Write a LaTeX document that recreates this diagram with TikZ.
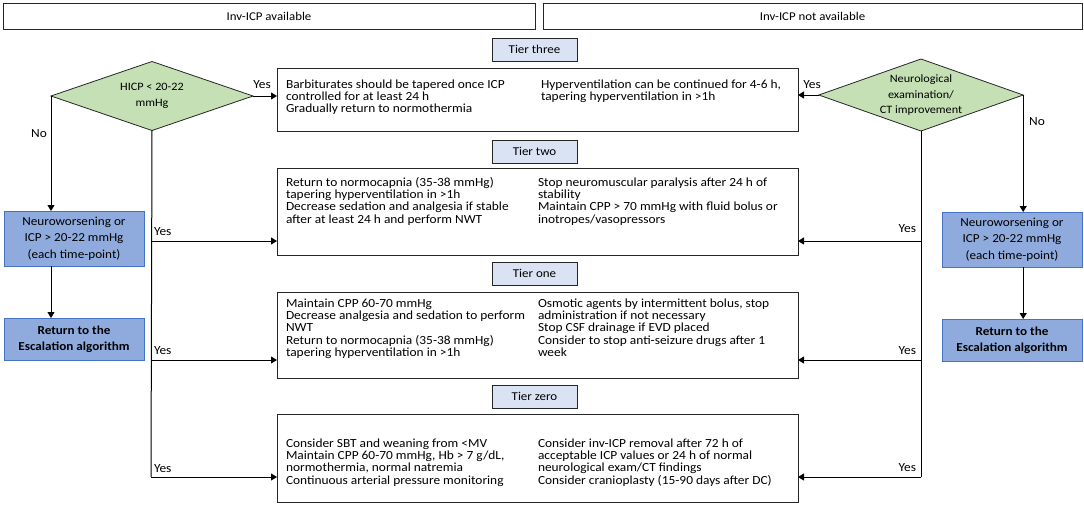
\documentclass[tikz,border=0pt]{standalone}
\usepackage{fontspec}
\setmainfont{Carlito}[FakeStretch=1.08]
\usetikzlibrary{arrows.meta,shapes.geometric}
\definecolor{diagreen}{HTML}{C5E0B4}
\definecolor{tierfill}{HTML}{DAE3F3}
\definecolor{bluefill}{HTML}{8FAADC}
\definecolor{blueline}{HTML}{4472C4}
\definecolor{ink}{HTML}{262626}
\newcommand{\colstack}[1]{\vtop{\halign{##\hfil\cr#1\cr}}}
\begin{document}
\begin{tikzpicture}[x=1pt,y=-1pt,
  every node/.style={inner sep=0pt, outer sep=0pt},
  hdr/.style={draw=ink, line width=0.8pt, font=\fontsize{11.9}{14}\selectfont, minimum height=26},
  tierlbl/.style={draw=ink, fill=tierfill, line width=0.8pt, font=\fontsize{12}{14}\selectfont, minimum width=85, minimum height=23},
  content/.style={draw=ink, line width=0.8pt, minimum width=521},
  coltext/.style={anchor=base west, font=\fontsize{12.4}{12.45}\selectfont},
  dec/.style={shape=diamond, draw=ink, fill=diagreen, line width=0.8pt, aspect=3, align=center, font=\fontsize{11.3}{15.5}\selectfont},
  bluebox/.style={draw=blueline, fill=bluefill, line width=1pt, minimum width=140, align=center, font=\fontsize{12.2}{16.5}\selectfont},
  conn/.style={line width=1pt, draw=black},
  arr/.style={conn, -{Triangle[length=6pt,width=7pt]}},
  lbl/.style={font=\fontsize{12.4}{14}\selectfont}
]
\useasboundingbox (0,0) rectangle (1084,504);

% headers
\node[hdr, minimum width=532] (hL) at (269,16) {Inv-ICP available};
\node[hdr, minimum width=539] (hR) at (812.5,16) {Inv-ICP not available};

% tier labels
\node[tierlbl] (l3) at (534.5,49.5) {Tier three};
\node[tierlbl] (l2) at (534.5,151.5) {Tier two};
\node[tierlbl] (l1) at (534.5,273.5) {Tier one};
\node[tierlbl] (l0) at (534.5,396.5) {Tier zero};

% content boxes
\node[content, minimum height=63] (t3) at (537.5,99.5) {};
\node[content, minimum height=87] (t2) at (537.5,211.5) {};
\node[content, minimum height=86] (t1) at (537.5,335) {};
\node[content, minimum height=88] (t0) at (537.5,458) {};

% texts
\node[coltext] (t3a) at (286,88) {\colstack{Barbiturates should be tapered once ICP\cr controlled for at least 24 h\cr Gradually return to normothermia}};
\node[coltext] (t3b) at (541,88) {\colstack{Hyperventilation can be continued for 4-6 h,\cr tapering hyperventilation in >1h}};
\node[coltext] (t2a) at (286,186) {\colstack{Return to normocapnia (35-38 mmHg)\cr tapering hyperventilation in >1h\cr Decrease sedation and analgesia if stable\cr after at least 24 h and perform NWT}};
\node[coltext] (t2b) at (538,186) {\colstack{Stop neuromuscular paralysis after 24 h of\cr stability\cr Maintain CPP > 70 mmHg with fluid bolus or\cr inotropes/vasopressors}};
\node[coltext] (t1a) at (286,307) {\colstack{Maintain CPP 60-70 mmHg\cr Decrease analgesia and sedation to perform\cr NWT\cr Return to normocapnia (35-38 mmHg)\cr tapering hyperventilation in >1h}};
\node[coltext] (t1b) at (538,307) {\colstack{Osmotic agents by intermittent bolus, stop\cr administration if not necessary\cr Stop CSF drainage if EVD placed\cr Consider to stop anti-seizure drugs after 1\cr week}};
\node[coltext] (t0a) at (286,447) {\colstack{Consider SBT and weaning from <MV\cr Maintain CPP 60-70 mmHg, Hb > 7 g/dL,\cr normothermia, normal natremia\cr Continuous arterial pressure monitoring}};
\node[coltext] (t0b) at (538,447) {\colstack{Consider inv-ICP removal after 72 h of\cr acceptable ICP values or 24 h of normal\cr neurological exam/CT findings\cr Consider cranioplasty (15-90 days after DC)}};

% diamonds
\node[dec, minimum width=202, minimum height=69] (dL) at (152,96) {HICP < 20-22\\mmHg};
\node[dec, minimum width=202, minimum height=72] (dR) at (921,95) {Neurological\\examination/\\CT improvement};

% side boxes
\node[bluebox, minimum height=55] (nwL) at (74,238.5) {Neuroworsening or\\ICP > 20-22 mmHg\\ (each time-point)};
\node[bluebox, minimum height=42, font=\fontsize{12.2}{16.5}\selectfont\bfseries] (rL) at (74,339) {Return to the\\Escalation algorithm};
\node[bluebox, minimum height=55] (nwR) at (1012,239.5) {Neuroworsening or\\ICP > 20-22 mmHg\\ (each time-point)};
\node[bluebox, minimum height=42, font=\fontsize{12.2}{16.5}\selectfont\bfseries] (rR) at (1012,340) {Return to the\\Escalation algorithm};

% trunk coordinates
\coordinate (bL2) at (151,241);
\coordinate (bL1) at (151,360);
\coordinate (bL0) at (151,477);
\coordinate (bR2) at (921,241);
\coordinate (bR1) at (921,360);
\coordinate (bR0) at (921,477);

% connectors
\draw[arr] (dL.east) -- (dL.east -| t3.west);
\draw[arr] (dR.west) -- (dR.west -| t3.east);
\draw[conn] (dL.south) -- (bL0);
\draw[conn] (dR.south) -- (bR0);
\draw[arr] (bL2) -- (bL2 -| t2.west);
\draw[arr] (bL1) -- (bL1 -| t1.west);
\draw[arr] (bL0) -- (bL0 -| t0.west);
\draw[arr] (bR2) -- (bR2 -| t2.east);
\draw[arr] (bR1) -- (bR1 -| t1.east);
\draw[arr] (bR0) -- (bR0 -| t0.east);
\draw[arr] (dL.west) -- (dL.west |- nwL.north);
\draw[arr] (dL.west |- nwL.south) -- (dL.west |- rL.north);
\draw[arr] (dR.east) -- (dR.east |- nwR.north);
\draw[arr] (dR.east |- nwR.south) -- (dR.east |- rR.north);

% labels
\node[lbl] (yT3L) at (262,85) {Yes};
\node[lbl] (yT3R) at (812,85) {Yes};
\node[lbl, anchor=west] (yL2) at (154,232) {Yes};
\node[lbl, anchor=west] (yL1) at (154,351) {Yes};
\node[lbl, anchor=west] (yL0) at (154,469) {Yes};
\node[lbl, anchor=east] (yR2) at (916,229) {Yes};
\node[lbl, anchor=east] (yR1) at (916,351) {Yes};
\node[lbl, anchor=east] (yR0) at (916,468) {Yes};
\node[lbl] (noL) at (39,134) {No};
\node[lbl] (noR) at (1037,122) {No};
\end{tikzpicture}
\end{document}
